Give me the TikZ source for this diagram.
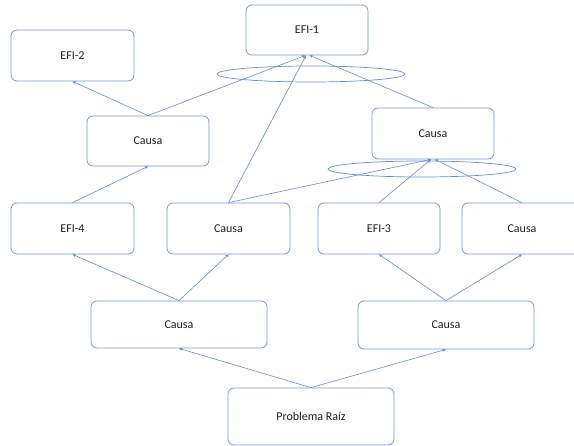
\documentclass[tikz,border=0pt]{standalone}
\usepackage{fontspec}
\setmainfont{Carlito}
\usetikzlibrary{arrows.meta,shapes.geometric}
\definecolor{boxc}{RGB}{120,150,210}
\definecolor{linec}{RGB}{100,138,212}
\definecolor{txt}{RGB}{30,30,30}
\tikzset{
  box/.style={draw=boxc,line width=0.8pt,rounded corners=6pt,fill=white,
    minimum width=#1,inner sep=0pt,text=txt,font=\fontsize{12}{14}\selectfont},
  box/.default=122pt,
  link/.style={draw=linec,line width=0.6pt,-{Stealth[length=3.5pt,width=3pt]}},
  ring/.style={ellipse,draw=linec,line width=0.7pt,inner sep=0pt}
}
\begin{document}
\begin{tikzpicture}[x=1pt,y=-1pt]
\useasboundingbox (0,0) rectangle (574,446);
\begin{scope}
\clip (0,0) rectangle (574,446);
% ellipses
\node[ring,minimum width=188pt,minimum height=16pt] (r1) at (311,74) {};
\node[ring,minimum width=188pt,minimum height=16pt] (r2) at (422,169) {};
% boxes
\node[box,minimum height=50pt] (efi1) at (307,30) {EFI-1};
\node[box=123pt,minimum height=51pt] (efi2) at (72.5,55.5) {EFI-2};
\node[box,minimum height=50pt] (c1) at (148,141) {Causa};
\node[box,minimum height=51pt] (c2) at (433,133.5) {Causa};
\node[box=123pt,minimum height=51pt] (efi4) at (72.5,228.5) {EFI-4};
\node[box=123pt,minimum height=51pt] (c3) at (228.5,228.5) {Causa};
\node[box,minimum height=51pt] (efi3) at (379,228.5) {EFI-3};
\node[box=120pt,minimum height=51pt] (c4) at (522,228.5) {Causa};
\node[box=176pt,minimum height=47pt] (c5) at (179,324.5) {Causa};
\node[box=176pt,minimum height=48pt] (c6) at (446,325) {Causa};
\node[box=166pt,minimum height=57pt] (root) at (311,416.5) {Problema Raíz};
% links
\draw[link] (root.north) -- (c5.south);
\draw[link] (root.north) -- (c6.south);
\draw[link] (c5.north) -- (efi4.south);
\draw[link] (c5.north) -- (c3.south);
\draw[link] (c6.north) -- (efi3.south);
\draw[link] (c6.north) -- (c4.south);
\draw[link] (efi4.north) -- (c1.south);
\draw[link] (c1.north) -- (efi2.south);
\draw[link] (c1.north) -- ([xshift=-1.5pt]efi1.south);
\draw[link] (c3.north) -- ([xshift=-1pt]efi1.south);
\draw[link] (c2.north) -- ([xshift=2.5pt]efi1.south);
\draw[link] (c3.north) -- ([xshift=-2pt]c2.south);
\draw[link] (efi3.north) -- ([xshift=-2pt]c2.south);
\draw[link] (c4.north) -- ([xshift=2pt]c2.south);
\end{scope}
\end{tikzpicture}
\end{document}
